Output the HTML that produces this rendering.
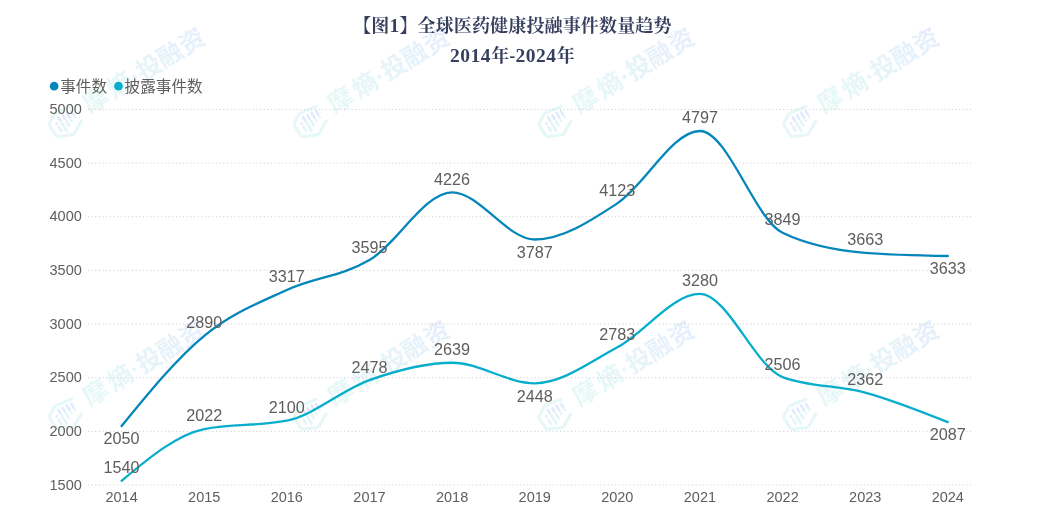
<!DOCTYPE html>
<html lang="zh-CN"><head><meta charset="utf-8"><title>全球医药健康投融事件数量趋势</title>
<style>
html,body{margin:0;padding:0;background:#fff;}
body{width:1046px;height:521px;overflow:hidden;position:relative;font-family:"Liberation Sans","Noto Sans CJK SC",sans-serif;}
svg{position:absolute;left:0;top:0;display:block}
.ttl{font-family:"Liberation Serif","Noto Serif CJK SC",serif;font-weight:700;font-size:18px;fill:#363f5d;text-anchor:middle;letter-spacing:0.15px}
.ax{font-family:"Liberation Sans","Noto Sans CJK SC",sans-serif;font-size:14.5px;fill:#605e5c}
.dl{font-family:"Liberation Sans","Noto Sans CJK SC",sans-serif;font-size:16.2px;fill:#605e5c;text-anchor:middle}
.lg{font-family:"Liberation Sans","Noto Sans CJK SC",sans-serif;font-size:15.6px;fill:#605e5c}
.wm{font-family:"Liberation Sans","Noto Sans CJK SC",sans-serif;font-size:25px;font-weight:700;letter-spacing:0.8px}
</style></head><body>
<svg width="1046" height="521" viewBox="0 0 1046 521">
<defs>
<linearGradient id="wg" x1="0" y1="0" x2="1" y2="0"><stop offset="0" stop-color="#e6f8f6"/><stop offset="0.45" stop-color="#e6f5f9"/><stop offset="1" stop-color="#e6eefc"/></linearGradient>
<g id="wm">
<g transform="rotate(-31.5)">
<path d="M12.70,-9.50 L-4.10,-12.02 A3.50,3.50 0 0 0 -6.36,-11.59 L-14.29,-7.04 A3.50,3.50 0 0 0 -16.04,-3.91 L-15.76,6.61 A3.50,3.50 0 0 0 -13.71,9.70 L-2.08,14.98 A3.50,3.50 0 0 0 1.03,14.87 L13.20,8.30" fill="none" stroke="#e5f7f6" stroke-width="3" stroke-linejoin="round" stroke-linecap="round"/>
<path d="M-9.00,-2.60V-2.40M-4.30,-7.20V-3.20M0.45,-6.30V-2.20M5.20,-6.70V-0.60M10.00,-5.50V-1.20" fill="none" stroke="#e1ebfc" stroke-width="2.7" stroke-linecap="round"/>
<path d="M-9.00,1.20V6.00M-4.30,-0.30V8.80M0.45,0.60V5.50M5.20,2.60V2.70M10.00,1.60V1.70" fill="none" stroke="#e3f6f5" stroke-width="2.7" stroke-linecap="round"/>
<text class="wm" x="24.3" y="6.6" fill="url(#wg)">摩<tspan dx="2.5">熵</tspan>·<tspan dx="-1">投</tspan><tspan dx="-1.5">融</tspan>资</text>
</g></g>
</defs>
<use href="#wm" x="65.7" y="121"/>
<use href="#wm" x="310.5" y="121"/>
<use href="#wm" x="555.3" y="121"/>
<use href="#wm" x="800.1" y="121"/>
<use href="#wm" x="65.7" y="413.8"/>
<use href="#wm" x="310.5" y="413.8"/>
<use href="#wm" x="555.3" y="413.8"/>
<use href="#wm" x="800.1" y="413.8"/>
<text class="ttl" x="512.4" y="32">【图<tspan font-size="19.5">1</tspan>】全球医药健康投融事件数量趋势</text>
<text class="ttl" x="512.4" y="62"><tspan font-size="19.5" letter-spacing="0.55">2014</tspan>年-<tspan font-size="19.5" letter-spacing="0.55">2024</tspan>年</text>
<circle cx="54.15" cy="86.15" r="4.35" fill="#0586ba"/><text class="lg" x="60.2" y="91.6">事件数</text>
<circle cx="118.5" cy="86.15" r="4.35" fill="#07aecb"/><text class="lg" x="124.6" y="91.6">披露事件数</text>
<line x1="88" x2="972.5" y1="109.40" y2="109.40" stroke="#cacaca" stroke-width="1" stroke-dasharray="1 2.66"/><text class="ax" x="49.5" y="114.1">5000</text>
<line x1="88" x2="972.5" y1="163.06" y2="163.06" stroke="#cacaca" stroke-width="1" stroke-dasharray="1 2.66"/><text class="ax" x="49.5" y="167.8">4500</text>
<line x1="88" x2="972.5" y1="216.72" y2="216.72" stroke="#cacaca" stroke-width="1" stroke-dasharray="1 2.66"/><text class="ax" x="49.5" y="221.4">4000</text>
<line x1="88" x2="972.5" y1="270.38" y2="270.38" stroke="#cacaca" stroke-width="1" stroke-dasharray="1 2.66"/><text class="ax" x="49.5" y="275.1">3500</text>
<line x1="88" x2="972.5" y1="324.04" y2="324.04" stroke="#cacaca" stroke-width="1" stroke-dasharray="1 2.66"/><text class="ax" x="49.5" y="328.7">3000</text>
<line x1="88" x2="972.5" y1="377.70" y2="377.70" stroke="#cacaca" stroke-width="1" stroke-dasharray="1 2.66"/><text class="ax" x="49.5" y="382.4">2500</text>
<line x1="88" x2="972.5" y1="431.36" y2="431.36" stroke="#cacaca" stroke-width="1" stroke-dasharray="1 2.66"/><text class="ax" x="49.5" y="436.1">2000</text>
<line x1="88" x2="972.5" y1="485.02" y2="485.02" stroke="#cacaca" stroke-width="1" stroke-dasharray="1 2.66"/><text class="ax" x="49.5" y="489.7">1500</text>
<text class="ax" text-anchor="middle" x="121.6" y="502">2014</text>
<text class="ax" text-anchor="middle" x="204.2" y="502">2015</text>
<text class="ax" text-anchor="middle" x="286.8" y="502">2016</text>
<text class="ax" text-anchor="middle" x="369.5" y="502">2017</text>
<text class="ax" text-anchor="middle" x="452.1" y="502">2018</text>
<text class="ax" text-anchor="middle" x="534.7" y="502">2019</text>
<text class="ax" text-anchor="middle" x="617.3" y="502">2020</text>
<text class="ax" text-anchor="middle" x="699.9" y="502">2021</text>
<text class="ax" text-anchor="middle" x="782.6" y="502">2022</text>
<text class="ax" text-anchor="middle" x="865.2" y="502">2023</text>
<text class="ax" text-anchor="middle" x="947.8" y="502">2024</text>
<path d="M121.60,426.03C149.14,392.26,176.68,358.49,204.22,335.81C231.76,313.13,259.30,302.57,286.84,289.95C314.38,277.33,341.92,276.37,369.46,260.10C397.00,243.83,424.54,192.33,452.08,192.33C479.62,192.33,507.16,239.48,534.70,239.48C562.24,239.48,589.78,221.47,617.32,203.39C644.86,185.31,672.40,131.00,699.94,131.00C727.48,131.00,755.02,219.50,782.56,232.82C810.10,246.13,837.64,250.65,865.18,252.79C892.72,254.94,920.26,255.48,947.80,256.02" fill="none" stroke="#0586ba" stroke-width="2.3" stroke-linejoin="round" stroke-linecap="round"/>
<path d="M121.60,480.80C149.14,457.71,176.68,434.62,204.22,429.04C231.76,423.45,259.30,426.24,286.84,420.66C314.38,415.08,341.92,389.71,369.46,380.06C397.00,370.41,424.54,362.77,452.08,362.77C479.62,362.77,507.16,383.28,534.70,383.28C562.24,383.28,589.78,362.20,617.32,347.31C644.86,332.41,672.40,293.93,699.94,293.93C727.48,293.93,755.02,366.75,782.56,377.06C810.10,387.37,837.64,385.02,865.18,392.52C892.72,400.02,920.26,411.04,947.80,422.06" fill="none" stroke="#07aecb" stroke-width="2.3" stroke-linejoin="round" stroke-linecap="round"/>
<text class="dl" x="121.6" y="444.3">2050</text>
<text class="dl" x="204.2" y="328.2">2890</text>
<text class="dl" x="286.8" y="282.4">3317</text>
<text class="dl" x="369.5" y="252.5">3595</text>
<text class="dl" x="452.1" y="184.7">4226</text>
<text class="dl" x="534.7" y="257.8">3787</text>
<text class="dl" x="617.3" y="195.8">4123</text>
<text class="dl" x="699.9" y="123.4">4797</text>
<text class="dl" x="782.6" y="225.2">3849</text>
<text class="dl" x="865.2" y="245.2">3663</text>
<text class="dl" x="947.8" y="274.3">3633</text>
<text class="dl" x="121.6" y="473.2">1540</text>
<text class="dl" x="204.2" y="421.4">2022</text>
<text class="dl" x="286.8" y="413.1">2100</text>
<text class="dl" x="369.5" y="372.5">2478</text>
<text class="dl" x="452.1" y="355.2">2639</text>
<text class="dl" x="534.7" y="401.6">2448</text>
<text class="dl" x="617.3" y="339.7">2783</text>
<text class="dl" x="699.9" y="286.3">3280</text>
<text class="dl" x="782.6" y="369.5">2506</text>
<text class="dl" x="865.2" y="384.9">2362</text>
<text class="dl" x="947.8" y="440.4">2087</text>
</svg></body></html>
